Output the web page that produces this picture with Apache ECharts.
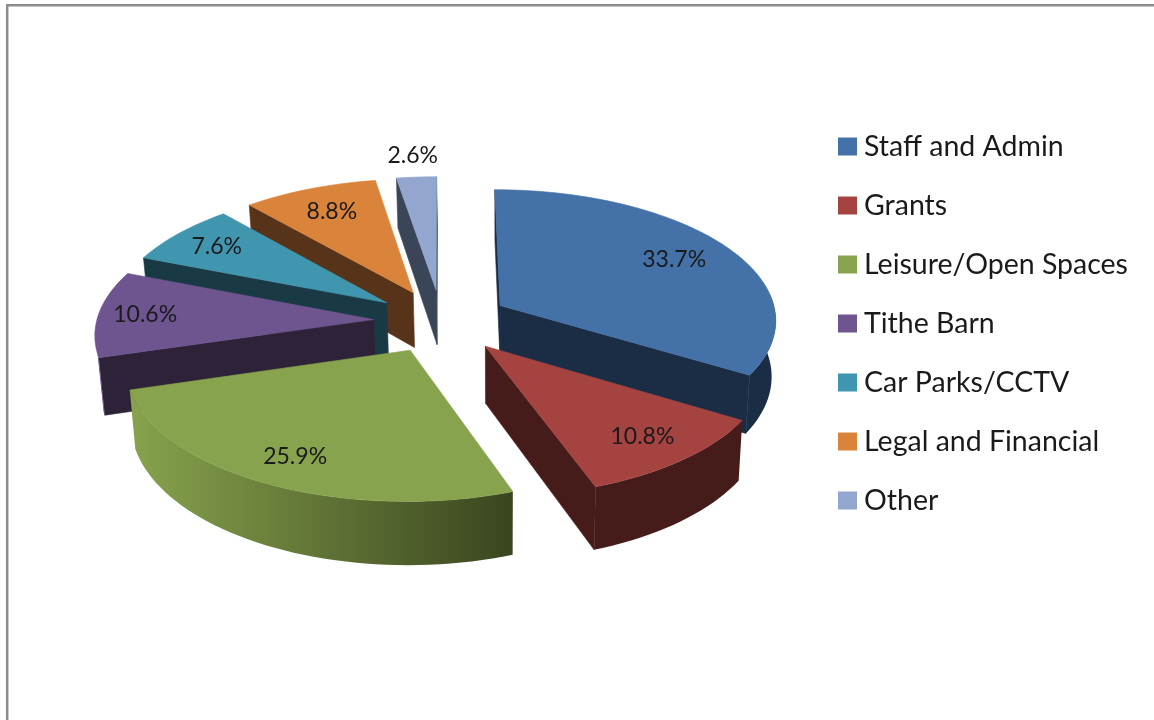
<!DOCTYPE html>
<html>
<head>
<meta charset="utf-8">
<style>html,body{margin:0;padding:0;background:#fff}#c{width:1154px;height:720px}</style>
<script src="https://cdn.jsdelivr.net/npm/echarts@6/dist/echarts.min.js"></script>
</head>
<body>
<div id="c"></div>
<script>
// ---- data ----
const categories = ['Staff and Admin', 'Grants', 'Leisure/Open Spaces', 'Tithe Barn', 'Car Parks/CCTV', 'Legal and Financial', 'Other'];
const shares = [33.7, 10.8, 25.9, 10.6, 7.6, 8.8, 2.6];
// ---- colours ----
const topColors = ['#4472A8', '#A54341', '#87A34D', '#6F5590', '#3F96AE', '#D9833B', '#92A6CF'];
const wallColors = ['#1A2D45', '#451C19', '#3A451F', '#2E2238', '#193A44', '#57331A', '#3A4558'];
// ---- 3D projection of the exploded pie ----
const view = { cx: 441.5, cy: 321, k: 0.47, d: 2800, radius: 277, explode: 68, depth: 56, taper: 0.015, vanishX: 500 };
const labelRadius = [212, 224, 226, 230, 224, 213, 335];
const FONT = 'Lato';

const total = shares.reduce((a, b) => a + b, 0);
const starts = [];
shares.reduce((acc, v, i) => { starts[i] = acc; return acc + v; }, 0);
const rad = d => d * Math.PI / 180;
const angleOf = p => p / total * 360;

function project(X, Y, Z) {
  const s = 1 / (1 - Y / view.d);
  const f = 1 - view.taper * Z / view.depth;
  const x = view.cx + X * s;
  return [view.vanishX + (x - view.vanishX) * f, view.cy + view.k * Y * s + Z * s];
}
function hexMix(a, b, t) {
  const c = h => [1, 3, 5].map(i => parseInt(h.substr(i, 2), 16));
  const A = c(a), B = c(b);
  return 'rgb(' + A.map((v, i) => Math.round(v + (B[i] - v) * t)).join(',') + ')';
}

function sliceGroup(i) {
  const a0 = angleOf(starts[i]), a1 = angleOf(starts[i] + shares[i]), mid = (a0 + a1) / 2;
  const ax = view.explode * Math.sin(rad(mid)), ay = -view.explode * Math.cos(rad(mid));
  const onRim = (a, r) => [ax + r * Math.sin(rad(a)), ay - r * Math.cos(rad(a))];
  const children = [];
  const wall = wallColors[i];
  const R = view.radius, h = view.depth;
  const poly = (pts, fill, stroke) => children.push({
    type: 'polygon', shape: { points: pts },
    style: stroke ? { fill, stroke: fill, lineWidth: 0.6 } : { fill }
  });

  // cut faces, culled against the camera
  const face = (a, nx, ny) => {
    if (nx * (-ax) + ny * (view.d - ay) <= 0) return;
    const p = onRim(a, R);
    poly([project(ax, ay, 0), project(p[0], p[1], 0), project(p[0], p[1], h), project(ax, ay, h)], wall, true);
  };
  face(a0, -Math.cos(rad(a0)), -Math.sin(rad(a0)));
  face(a1, Math.cos(rad(a1)), Math.sin(rad(a1)));

  // outer wall: visible part of the rim, shaded left to right
  const w0 = Math.max(a0, 85), w1 = Math.min(a1, 255);
  if (w1 > w0) {
    const n = Math.max(2, Math.ceil((w1 - w0) / 2));
    const upper = [], lower = [];
    const lo = Math.sin(rad(253.44)), hi = Math.sin(rad(160.2));
    for (let j = 0; j <= n; j++) {
      const p = onRim(w0 + (w1 - w0) * j / n, R);
      upper.push(project(p[0], p[1], 0));
      lower.push(project(p[0], p[1], h));
    }
    const xs = upper.concat(lower).map(q => q[0]);
    const xMin = Math.min.apply(null, xs), xMax = Math.max.apply(null, xs);
    const shade = a => Math.min(1, Math.max(0, (Math.sin(rad(a)) - lo) / (hi - lo)));
    const stops = w1 >= 180
      ? [{ offset: 0, color: hexMix(topColors[i], wall, shade(w1)) }, { offset: 1, color: hexMix(topColors[i], wall, shade(w0)) }]
      : [{ offset: 0, color: hexMix(topColors[i], wall, shade(w1)) }, { offset: 1, color: hexMix(topColors[i], wall, shade(w1)) }];
    poly(upper.concat(lower.reverse()), {
      type: 'linear', x: xMin, y: 0, x2: xMax, y2: 0, global: true, colorStops: stops
    }, false);
  }

  // top face
  const topPts = [project(ax, ay, 0)];
  const steps = Math.max(2, Math.ceil((a1 - a0) / 2));
  for (let j = 0; j <= steps; j++) {
    const p = onRim(a0 + (a1 - a0) * j / steps, R);
    topPts.push(project(p[0], p[1], 0));
  }
  poly(topPts, topColors[i], true);

  // percentage label
  const lp = onRim(mid, labelRadius[i]);
  const lpos = project(lp[0], lp[1], 0);
  children.push({
    type: 'text', x: lpos[0], y: lpos[1],
    style: { text: shares[i].toFixed(1) + '%', fill: '#1a1a1a', fontFamily: FONT, fontSize: 23, textAlign: 'center', textVerticalAlign: 'middle' }
  });
  return { type: 'group', children };
}

// paint from the back of the pie to the front
const depthOf = i => -Math.cos(rad(angleOf(starts[i] + shares[i] / 2)));
const rank = categories.map((_, i) => i).sort((a, b) => depthOf(a) - depthOf(b));

const chart = echarts.init(document.getElementById('c'), null, { renderer: 'canvas' });
chart.setOption({
  animation: false,
  backgroundColor: '#fff',
  graphic: [{
    type: 'rect', silent: true,
    shape: { x: 7.2, y: 5.2, width: 1170, height: 740 },
    style: { fill: 'none', stroke: '#8c8c8c', lineWidth: 2.5 }
  }],
  legend: {
    orient: 'vertical', left: 833, top: 127,
    data: categories, selectedMode: false,
    icon: 'rect', itemWidth: 19, itemHeight: 18, itemGap: 30,
    textStyle: { fontFamily: FONT, fontSize: 28.5, lineHeight: 28, color: '#1a1a1a', padding: [0, 0, 0, 2] }
  },
  series: categories.map((name, i) => ({
    type: 'custom',
    name,
    coordinateSystem: 'none',
    z: 2 + rank.indexOf(i),
    silent: true,
    itemStyle: { color: topColors[i] },
    data: [[shares[i]]],
    renderItem: () => sliceGroup(i)
  }))
});
</script>
</body>
</html>
